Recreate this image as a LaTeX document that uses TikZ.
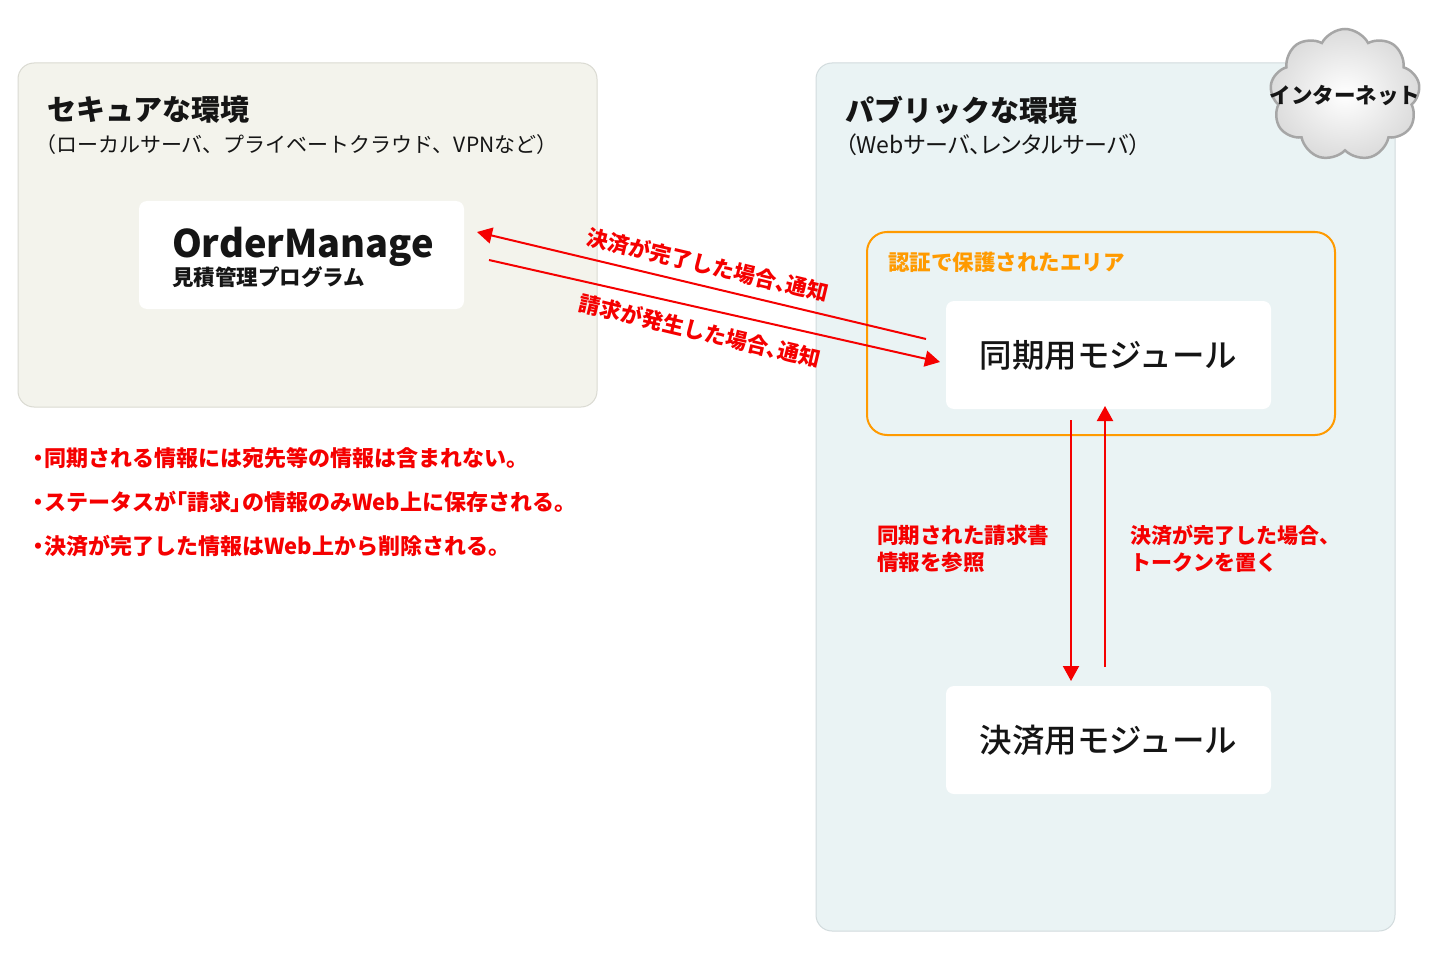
\documentclass[tikz,border=0pt]{standalone}
\usepackage{fontspec}
\setmainfont{Noto Sans CJK JP}
\newfontfamily\paltfont{Noto Sans CJK JP}[RawFeature=+palt]
\IfFontExistsTF{Noto Sans CJK JP Medium}
  {\newfontfamily\medfont{Noto Sans CJK JP Medium}}
  {\newcommand{\medfont}{\bfseries}}
\usetikzlibrary{arrows.meta,shapes.symbols}
\definecolor{leftfill}{HTML}{F3F3EC}
\definecolor{leftline}{HTML}{DADAD2}
\definecolor{rightfill}{HTML}{EAF3F4}
\definecolor{rightline}{HTML}{D2DBDD}
\definecolor{alertred}{HTML}{F50000}
\definecolor{authorange}{HTML}{FF9A00}
\definecolor{ink}{HTML}{151515}
\newcommand{\fsz}[1]{\fontsize{#1pt}{#1pt}\selectfont}
\newcommand{\pp}[1]{{\paltfont\bfseries #1}}
\tikzset{
  panel/.style={rounded corners=16pt, line width=1pt},
  modbox/.style={fill=white, rounded corners=8pt, minimum width=325pt, minimum height=108pt, inner sep=0pt},
  txt/.style={inner sep=0pt, outer sep=0pt, text=ink},
  redtxt/.style={inner sep=0pt, outer sep=0pt, text=alertred, font=\fsz{21}\bfseries},
  redarrow/.style={draw=alertred, line width=2pt, -{Triangle[length=15pt,width=16pt]}},
}
\begin{document}
\begin{tikzpicture}[x=1pt,y=-1pt]
\useasboundingbox (0,0) rectangle (1440,960);
\fill[white] (0,0) rectangle (1440,960);

% panels
\node[panel, draw=leftline, fill=leftfill, minimum width=579pt, minimum height=344pt, inner sep=0pt] (left) at (307.5,235) {};
\node[panel, draw=rightline, fill=rightfill, minimum width=579pt, minimum height=868pt, inner sep=0pt] (right) at (1105.5,497) {};

% titles
\node[txt, anchor=west, font=\fsz{29}\bfseries] (ltitle) at (47,110) {セキュアな環境};
\node[txt, anchor=west, font=\fsz{21}] (lsub) at (35,145) {（ローカルサーバ、プライベートクラウド、VPNなど）};
\node[txt, anchor=west, font=\fsz{29}\bfseries] (rtitle) at (845,110) {パブリックな環境};
\node[txt, anchor=west, font=\paltfont\fsz{23}] (rsub) at (845,145) {（Webサーバ、レンタルサーバ）};

% cloud
\node[cloud, cloud puffs=9, cloud puff arc=125, aspect=1.1, draw=gray!70, line width=2.5pt,
      inner color=white, outer color=gray!28, minimum width=150pt, minimum height=132pt] (cloud) at (1345,95) {};
\node[txt, font=\fsz{21.5}\bfseries] (net) at (1345,95) {インターネット};

% OrderManage
\node[modbox] (om) at (301.5,255) {};
\node[txt, anchor=base west, font=\fsz{38}\bfseries] (omname) at (172,258) {OrderManage};
\node[txt, anchor=west, font=\fsz{21.5}\bfseries] (omsub) at (172,277) {見積管理プログラム};

% auth area
\node[draw=authorange, line width=2pt, rounded corners=20pt, minimum width=468pt, minimum height=203pt, inner sep=0pt] (auth) at (1101,333.5) {};
\node[inner sep=0pt, anchor=west, text=authorange, font=\fsz{21.5}\bfseries] (authlbl) at (888,262) {認証で保護されたエリア};

% modules
\node[modbox, font=\medfont\fsz{32.5}, text=ink] (sync) at (1108.5,355) {同期用モジュール};
\node[modbox, font=\medfont\fsz{32.5}, text=ink] (pay) at (1108.5,740) {決済用モジュール};

% diagonal arrows
\coordinate (d1s) at (926,339);
\coordinate (d1e) at (477,232);
\coordinate (d2s) at (489,260);
\coordinate (d2e) at (940,362);
\draw[redarrow] (d1s) -- (d1e);
\draw[redarrow] (d2s) -- (d2e);
\node[redtxt, font=\fsz{21.5}\bfseries, rotate=-13.4] (lab1) at (708,265) {決済が完了した場合\pp{、}通知};
\node[redtxt, font=\fsz{21.5}\bfseries, rotate=-13.4] (lab2) at (700,331) {請求が発生した場合\pp{、}通知};

% vertical arrows
\coordinate (v1s) at (1071,420);
\coordinate (v1e) at (1071,681);
\coordinate (v2s) at (1105,667);
\coordinate (v2e) at (1105,406);
\draw[redarrow] (v1s) -- (v1e);
\draw[redarrow] (v2s) -- (v2e);
\node[redtxt, font=\fsz{21.5}\bfseries, anchor=north west, align=left] (vlab1) at (877,525) {同期された請求書\\[5.5pt]情報を参照};
\node[redtxt, font=\fsz{21}\bfseries, anchor=north west, align=left] (vlab2) at (1130,525) {決済が完了した場合、\\[6pt]トークンを置く};

% notes
\node[redtxt, font=\fsz{22}\bfseries, anchor=west] (n1) at (33,458) {\pp{・}同期される情報には宛先等の情報は含まれない。};
\node[redtxt, font=\fsz{22}\bfseries, anchor=west] (n2) at (33,502) {\pp{・}ステータスが\pp{「}請求\pp{」}の情報のみWeb上に保存される。};
\node[redtxt, font=\fsz{22}\bfseries, anchor=west] (n3) at (33,546) {\pp{・}決済が完了した情報はWeb上から削除される。};
\end{tikzpicture}
\end{document}
